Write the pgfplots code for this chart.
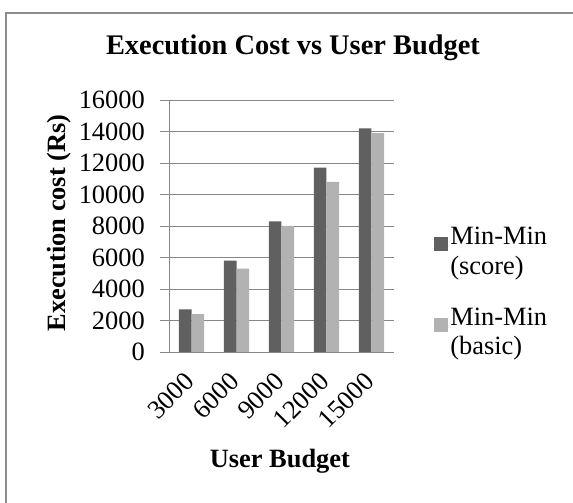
\documentclass[border=0pt]{standalone}
\usepackage{fontspec}
\setmainfont{Liberation Serif}
\usepackage{pgfplots}
\pgfplotsset{compat=1.18}
\definecolor{darkbar}{HTML}{606060}
\definecolor{lightbar}{HTML}{B2B2B2}
\definecolor{gridc}{HTML}{868686}
\definecolor{framec}{HTML}{8C8C8C}
\begin{document}
\begin{tikzpicture}[x=1bp,y=1bp]
\begin{axis}[
  at={(169bp,151bp)}, anchor=south west,
  scale only axis, width=225bp, height=252bp,
  ybar=0pt, bar width=12.7bp,
  xmin=-0.5, xmax=4.5, ymin=0, ymax=16000,
  xtick=data, xticklabels={3000,6000,9000,12000,15000},
  ytick={0,2000,...,16000},
  axis x line*=bottom, axis y line*=left,
  axis line style={gridc, line width=0.8bp},
  ymajorgrids, grid style={gridc, line width=0.8bp},
  x tick style={draw=none}, major x tick style={draw=none},
  y tick style={gridc, line width=0.8bp},
  tick align=outside, major tick length=9bp,
  scaled y ticks=false,
  /pgf/number format/assume math mode=true,
  /pgf/number format/set thousands separator={},
  tick label style={font=\fontsize{26.5}{30}\selectfont, text=black},
  yticklabel style={inner sep=0pt, anchor=east, xshift=-15bp},
  xticklabel style={inner sep=0pt, xshift=-2bp, yshift=-16bp, rotate=45, anchor=east},
  title={Execution Cost vs User Budget},
  title style={font=\fontsize{28.5}{32}\selectfont\bfseries, at={(axis description cs:0.551,1)}, anchor=base, yshift=40bp, inner sep=0pt},
  xlabel={User Budget},
  xlabel style={font=\fontsize{26.5}{30}\selectfont\bfseries, at={(axis description cs:0.493,-0.460)}, anchor=base, inner sep=0pt},
  ylabel={Execution cost (Rs)},
  ylabel style={font=\fontsize{26.5}{30}\selectfont\bfseries, at={(axis description cs:-0.458,0.512)}, anchor=base, rotate=0, inner sep=0pt},
  legend style={at={(axis description cs:1.176,0.508)}, anchor=north west, draw=none, fill=none,
    font=\fontsize{26.5}{30}\selectfont, cells={align=left, anchor=west}, nodes={inner sep=2.5bp}, row sep=27bp, inner sep=0pt},
  legend image code/.code={\fill[#1] (0bp,0bp) rectangle (14bp,14bp);},
  legend cell align=left,
]
\addplot[fill=darkbar, draw=none] coordinates {(0,2700) (1,5800) (2,8300) (3,11700) (4,14200)};
\addplot[fill=lightbar, draw=none] coordinates {(0,2400) (1,5300) (2,8000) (3,10800) (4,13900)};
\legend{Min-Min\\(score), Min-Min\\(basic)}
\end{axis}
\draw[framec, line width=2bp] (6bp,0bp) -- (6bp,490bp) -- (573bp,490bp);
\pgfresetboundingbox
\useasboundingbox (0,0) rectangle (573bp,503bp);
\end{tikzpicture}
\end{document}
